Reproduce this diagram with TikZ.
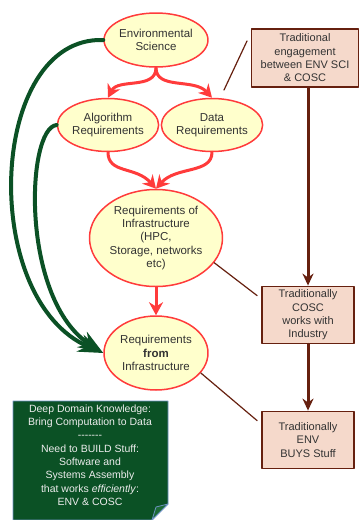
\documentclass[tikz,border=0pt]{standalone}
\usepackage{fontspec}
\setmainfont{Liberation Sans}
\usetikzlibrary{arrows.meta,shapes.geometric,calc}
\definecolor{redline}{HTML}{FF3B3B}
\definecolor{ellfill}{HTML}{FFFFCC}
\definecolor{textgray}{HTML}{333333}
\definecolor{brownline}{HTML}{66200F}
\definecolor{boxfill}{HTML}{F5D9CB}
\definecolor{greenc}{HTML}{0B5125}
\definecolor{notefold}{HTML}{1C6A36}
\definecolor{noteedge}{HTML}{6F93C4}
\definecolor{notetext}{HTML}{ECECEC}

\begin{document}
\begin{tikzpicture}[x=1pt,y=-1pt, line join=round, line cap=round,
    txt/.style={font=\fontsize{11.5}{13.3}\selectfont, text=textgray, align=center},
    req/.style={ellipse, draw=redline, line width=1.5pt, fill=ellfill, inner sep=0pt, txt},
    tradbox/.style={rectangle, draw=brownline, line width=1.8pt, fill=boxfill, inner sep=0pt, txt,
        font=\fontsize{11}{13.3}\selectfont},
    redarr/.style={draw=redline, line width=3pt, -{Stealth[length=13pt,width=14pt]}},
    greenarr/.style={draw=greenc, line width=4pt, -{Stealth[length=25pt,width=18pt]}},
    brownarr/.style={draw=brownline, line width=3pt, -{Stealth[length=12pt,width=11pt]}},
    brownlink/.style={draw=brownline, line width=1.2pt}]
    \useasboundingbox (0,0) rectangle (360,520);

    % ellipses
    \node[req, minimum width=100pt, minimum height=54pt] (env) at (156,40) {Environmental\\Science};
    \node[req, minimum width=94pt, minimum height=53pt] (alg) at (108,125) {Algorithm\\Requirements};
    \node[req, minimum width=93pt, minimum height=53pt] (data) at (212,125) {Data\\Requirements};
    \node[req, minimum width=133pt, minimum height=97pt] (infra) at (156,238)
        {Requirements of\\Infrastructure\\(HPC,\\Storage, networks\\etc)};
    \node[req, minimum width=104pt, minimum height=74pt] (from) at (156,353)
        {Requirements\\\textbf{from}\\Infrastructure};

    % boxes
    \node[tradbox, minimum width=107pt, minimum height=58pt] (trad) at (305,58)
        {Traditional\\engagement\\between ENV SCI\\\& COSC};
    \node[tradbox, minimum width=92pt, minimum height=57pt] (cosc) at (308,315)
        {Traditionally\\COSC\\works with\\Industry};
    \node[tradbox, minimum width=92pt, minimum height=57pt] (buys) at (308,440)
        {Traditionally\\ENV\\BUYS Stuff};

    % red flow
    \draw[redarr] (env.south) .. controls (156,90) and (118,78) .. (alg.north);
    \draw[redarr] (env.south) .. controls (156,90) and (194,78) .. (data.north);
    \draw[redarr] (alg.south) .. controls (108,174) and (136,166) .. (infra.north);
    \draw[redarr] (data.south) .. controls (212,174) and (176,166) .. (infra.north);
    \draw[redarr] (infra.south) -- (from.north);

    % green arcs
    \draw[greenarr] (env.west) .. controls (-12,36) and (-22,300) .. (from.west);
    \draw[greenarr] (alg.west) .. controls (26,128) and (20,300) .. (from.west);

    % brown
    \draw[brownarr] (trad.south -| cosc.north) -- (cosc.north);
    \draw[brownarr] (cosc.south) -- (buys.north);
    \coordinate (t1) at (247,41);
    \coordinate (t2) at (224,90);
    \draw[brownlink] (t1) -- (t2);
    \draw[brownlink] (infra.-23) -- ($(cosc.north west)+(-4,10)$);
    \draw[brownlink] (from.-24) -- ($(buys.north west)+(-4,10)$);

    % note
    \draw[fill=greenc, draw=noteedge, line width=0.8pt]
        (13,401) -- (168,401) -- (168,504) -- (152,520) -- (13,520) -- cycle;
    \draw[fill=notefold, draw=noteedge, line width=0.8pt]
        (168,504) -- (152,520) -- (156,507) -- cycle;
    \node[txt, text=notetext, font=\fontsize{10.5}{13.3}\selectfont] (note) at (90,455)
        {Deep Domain Knowledge:\\Bring Computation to Data\\-{}-{}-{}-{}-{}-{}-\\Need to BUILD Stuff:\\Software and\\Systems Assembly\\that works \emph{efficiently}:\\ENV \& COSC};
\end{tikzpicture}
\end{document}
